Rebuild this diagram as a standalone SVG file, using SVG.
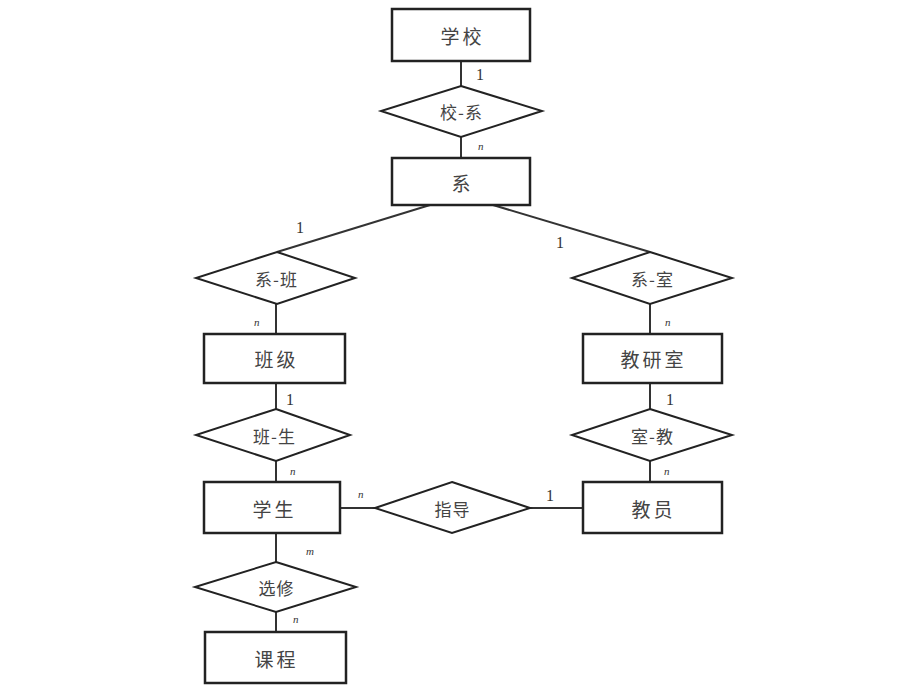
<svg xmlns="http://www.w3.org/2000/svg" width="920" height="690" viewBox="0 0 920 690">
<style>
.box{fill:#fff;stroke:#222;stroke-width:2.5}
.dia{fill:#fff;stroke:#222;stroke-width:2}
.ln{stroke:#333;stroke-width:2;fill:none}
.t{font-family:"Noto Sans CJK SC","Noto Sans CJK JP",sans-serif;font-size:19px;letter-spacing:3px;fill:#444;text-anchor:middle;dominant-baseline:central}
.d{font-family:"Noto Sans CJK SC","Noto Sans CJK JP",sans-serif;font-size:17px;letter-spacing:1px;fill:#444;text-anchor:middle;dominant-baseline:central}
.one{font-family:"Liberation Serif",serif;font-size:16px;fill:#333}
.n{font-family:"Liberation Serif",serif;font-size:11px;font-style:italic;fill:#333}
</style>
<rect width="920" height="690" fill="#fff"/>
<g id="connectors">
<line class="ln" x1="461" y1="61" x2="461" y2="86"/>
<line class="ln" x1="461" y1="137" x2="461" y2="158"/>
<line class="ln" x1="430" y1="205" x2="277" y2="252"/>
<line class="ln" x1="493" y1="205" x2="650" y2="252"/>
<line class="ln" x1="276" y1="304" x2="276" y2="334"/>
<line class="ln" x1="650" y1="304" x2="650" y2="334"/>
<line class="ln" x1="276" y1="383" x2="276" y2="409"/>
<line class="ln" x1="650" y1="383" x2="650" y2="409"/>
<line class="ln" x1="276" y1="461" x2="276" y2="482"/>
<line class="ln" x1="650" y1="461" x2="650" y2="482"/>
<line class="ln" x1="340" y1="508" x2="375" y2="508"/>
<line class="ln" x1="530" y1="508" x2="583" y2="508"/>
<line class="ln" x1="276" y1="533" x2="276" y2="562"/>
<line class="ln" x1="276" y1="612" x2="276" y2="632"/>
<text class="one" x="476" y="80">1</text>
<text class="n" x="478" y="150">n</text>
<text class="one" x="296" y="233">1</text>
<text class="one" x="556" y="248">1</text>
<text class="n" x="254" y="326">n</text>
<text class="n" x="665" y="326">n</text>
<text class="one" x="286" y="405">1</text>
<text class="one" x="666" y="405">1</text>
<text class="n" x="290" y="475">n</text>
<text class="n" x="664" y="475">n</text>
<text class="n" x="358" y="498">n</text>
<text class="one" x="546" y="501">1</text>
<text class="n" x="306" y="555">m</text>
<text class="n" x="293" y="623">n</text>
</g>
<g id="school"><rect class="box" x="392" y="9" width="138" height="52"/><text class="t" x="462.5" y="35">学校</text></g>
<g id="school-dept"><polygon class="dia" points="461,86 542,111 461,137 381,111"/><text class="d" x="461.5" y="111">校-系</text></g>
<g id="dept"><rect class="box" x="392" y="158" width="138" height="47"/><text class="t" x="462.5" y="182">系</text></g>
<g id="dept-class"><polygon class="dia" points="277,252 355,278 277,304 196,278"/><text class="d" x="276.5" y="278">系-班</text></g>
<g id="dept-office"><polygon class="dia" points="650,252 732,278 650,304 572,278"/><text class="d" x="652.5" y="278">系-室</text></g>
<g id="class"><rect class="box" x="204" y="334" width="141" height="49"/><text class="t" x="276.5" y="358">班级</text></g>
<g id="office"><rect class="box" x="583" y="334" width="139" height="49"/><text class="t" x="653.5" y="358">教研室</text></g>
<g id="class-student"><polygon class="dia" points="276,409 350,435 276,461 196,435"/><text class="d" x="274.5" y="435">班-生</text></g>
<g id="office-teacher"><polygon class="dia" points="650,409 732,435 650,461 572,435"/><text class="d" x="652.5" y="435">室-教</text></g>
<g id="student"><rect class="box" x="204" y="482" width="136" height="51"/><text class="t" x="274.5" y="508">学生</text></g>
<g id="guide"><polygon class="dia" points="452,482 530,508 452,533 375,508"/><text class="d" x="452.5" y="508">指导</text></g>
<g id="teacher"><rect class="box" x="583" y="482" width="139" height="51"/><text class="t" x="653.5" y="508">教员</text></g>
<g id="elective"><polygon class="dia" points="276,562 356,587 276,612 195,587"/><text class="d" x="276.5" y="587">选修</text></g>
<g id="course"><rect class="box" x="205" y="632" width="141" height="51"/><text class="t" x="276.5" y="658">课程</text></g>
</svg>
